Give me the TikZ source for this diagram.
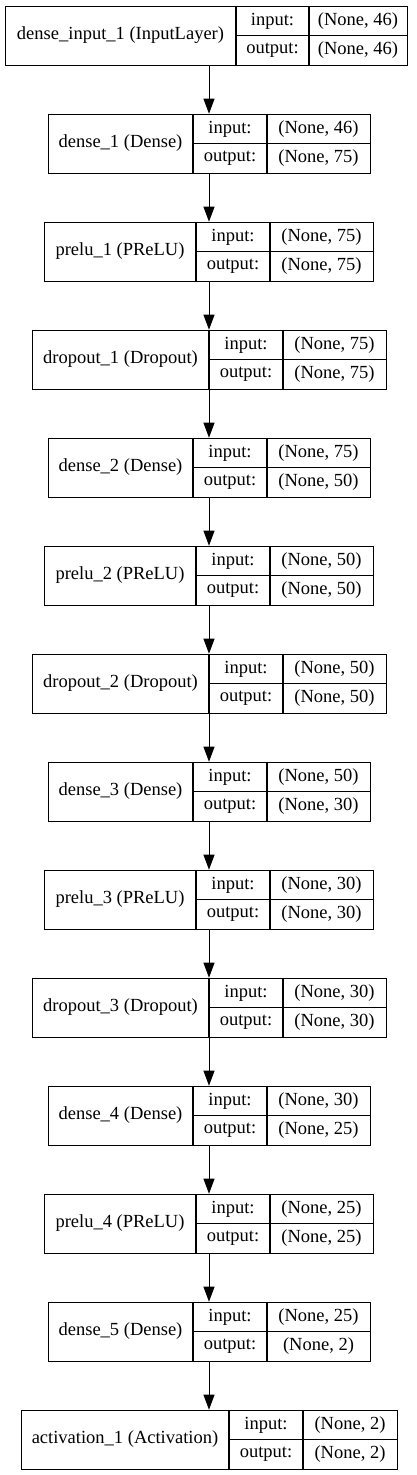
\documentclass[tikz,border=0pt]{standalone}
\usepackage{fontspec}
\setmainfont{Liberation Serif}
\usetikzlibrary{arrows.meta}
\tikzset{
  box/.style={draw, line width=1.1pt, inner sep=0pt, anchor=north west},
  cell/.style={inner sep=0pt, font=\fontsize{18.5}{20}\selectfont},
  sep/.style={line width=1.1pt},
  flow/.style={line width=1pt, -{Triangle[length=15pt,width=11pt]}, shorten >=0.3pt}
}
% #1 name, #2 top, #3 left, #4 divider1, #5 divider2, #6 right, #7 label, #8 input, #9 output
\newcommand{\kerasLayer}[9]{%
  \node[box, minimum width={#6pt-#3pt}, minimum height=58.5pt] (#1) at (#3,#2) {};
  \draw[sep] (#4,#2) -- (#4,{#2+58.5});
  \draw[sep] (#5,#2) -- (#5,{#2+58.5});
  \draw[sep] (#4,{#2+29.5}) -- (#6,{#2+29.5});
  \node[cell] (#1-lab) at ({(#3+#4)/2},{#2+29.25}) {#7};
  \node[cell] (#1-inl) at ({(#4+#5)/2},{#2+15}) {input:};
  \node[cell] (#1-inv) at ({(#5+#6)/2},{#2+15}) {#8};
  \node[cell] (#1-outl) at ({(#4+#5)/2},{#2+44}) {output:};
  \node[cell] (#1-outv) at ({(#5+#6)/2},{#2+44}) {#9};
}
\begin{document}
\begin{tikzpicture}[x=1pt,y=-1pt]
\useasboundingbox (0,0) rectangle (417,1475);
\coordinate (axis) at (209,0);
\kerasLayer{L1}{6}{5}{236}{309}{407}{dense\_input\_1 (InputLayer)}{(None, 46)}{(None, 46)}
\kerasLayer{L2}{114}{48}{193}{267}{370}{dense\_1 (Dense)}{(None, 46)}{(None, 75)}
\kerasLayer{L3}{222}{44}{196}{270}{373}{prelu\_1 (PReLU)}{(None, 75)}{(None, 75)}
\kerasLayer{L4}{330}{32}{209}{283}{386}{dropout\_1 (Dropout)}{(None, 75)}{(None, 75)}
\kerasLayer{L5}{438}{48}{193}{267}{370}{dense\_2 (Dense)}{(None, 75)}{(None, 50)}
\kerasLayer{L6}{546}{44}{196}{270}{373}{prelu\_2 (PReLU)}{(None, 50)}{(None, 50)}
\kerasLayer{L7}{654}{32}{209}{283}{386}{dropout\_2 (Dropout)}{(None, 50)}{(None, 50)}
\kerasLayer{L8}{762}{48}{193}{267}{370}{dense\_3 (Dense)}{(None, 50)}{(None, 30)}
\kerasLayer{L9}{870}{44}{196}{270}{373}{prelu\_3 (PReLU)}{(None, 30)}{(None, 30)}
\kerasLayer{L10}{978}{32}{209}{283}{386}{dropout\_3 (Dropout)}{(None, 30)}{(None, 30)}
\kerasLayer{L11}{1086}{48}{193}{267}{370}{dense\_4 (Dense)}{(None, 30)}{(None, 25)}
\kerasLayer{L12}{1194}{44}{196}{270}{373}{prelu\_4 (PReLU)}{(None, 25)}{(None, 25)}
\kerasLayer{L13}{1302}{48}{193}{267}{370}{dense\_5 (Dense)}{(None, 25)}{(None, 2)}
\kerasLayer{L14}{1410}{21}{229}{303}{397}{activation\_1 (Activation)}{(None, 2)}{(None, 2)}
\foreach \a/\b in {L1/L2,L2/L3,L3/L4,L4/L5,L5/L6,L6/L7,L7/L8,L8/L9,L9/L10,L10/L11,L11/L12,L12/L13,L13/L14}
  \draw[flow] (\a.south -| axis) -- (\b.north -| axis);
\end{tikzpicture}
\end{document}
